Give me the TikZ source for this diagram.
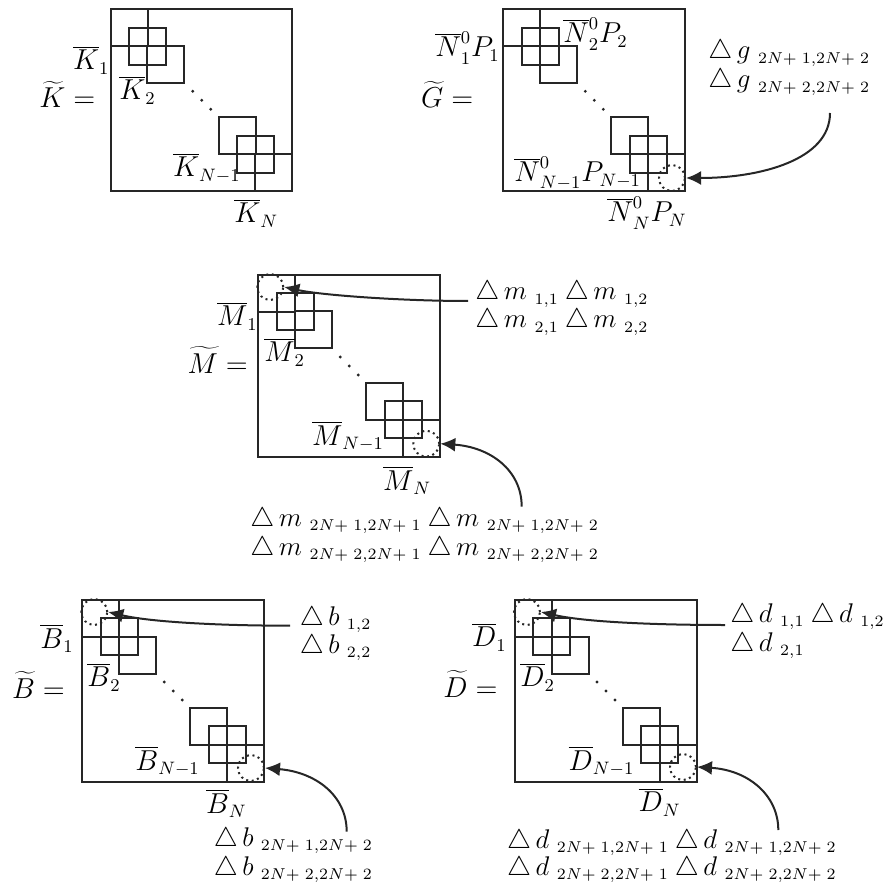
\documentclass[tikz,border=0pt]{standalone}
\usetikzlibrary{arrows.meta}
\DeclareMathSizes{12}{12}{7}{5}
\DeclareMathSizes{14.4}{14.4}{9}{7}
\tikzset{
  ln/.style={line width=2pt, draw=black!85},
  lab/.style={inner sep=0pt, anchor=base west, scale=2.0, font=\Large},
  ann/.style={inner sep=0pt, anchor=base west, scale=2.25, font=\large},
  cornerring/.style={circle, minimum size=26pt, inner sep=0pt, draw=black!85, line width=2pt, dash pattern=on 2pt off 3.6pt},
  arr/.style={line width=2pt, draw=black!85, -{Latex[length=15pt,width=14pt]}},
}
\newcommand\blkmat[2]{%
  \begin{scope}[shift={(#1,#2)}]
    \draw[ln] (0,0) rectangle (181.5,181.5);
    \foreach \o in {0,18.25,36.5,108,126.25,144.5} \draw[ln] (\o,\o) rectangle ++(37,37);
    \foreach \o in {82,91,100} \fill[black!85] (\o,\o) circle (1.6pt);
  \end{scope}}
\newcommand\dsub[2]{\triangle\,#1\;{}_{#2}}
\newcommand\ovN{\mathord{\smash{\overline{N}}\vphantom{N}}}
\begin{document}
\begin{tikzpicture}[x=1pt,y=-1pt]
\useasboundingbox (0,0) rectangle (891,890);
% ---------- K ----------
\blkmat{110.7}{9.3}
\node[lab] (K1) at (72.7,70) {$\overline{K}_1$};
\node[lab] (Keq) at (39,108) {$\widetilde{K}=$};
\node[lab] (K2) at (119,100) {$\overline{K}_2$};
\node[lab] (Kn1) at (172.7,177) {$\overline{K}_{N-1}$};
\node[lab] (Kn) at (234,223) {$\overline{K}_N$};
% ---------- G ----------
\blkmat{503.3}{9.3}
\node[lab] (G1) at (435,57) {$\ovN^0_1P_1$};
\node[lab] (Geq) at (420.7,108) {$\widetilde{G}=$};
\node[lab] (G2) at (563,43) {$\ovN^0_2P_2$};
\node[lab] (Gn1) at (514,181.7) {$\ovN^0_{N-1}P_{N-1}$};
\node[lab] (Gn) at (607,222) {$\ovN^0_NP_N$};
\node[cornerring] (Gbr) at (672,178) {};
\node[ann] (Ga1) at (708,59) {$\dsub{g}{2N{+}\;1,2N{+}\;2}$};
\node[ann] (Ga2) at (708,88) {$\dsub{g}{2N{+}\;2,2N{+}\;2}$};
\coordinate (Gs) at (830,113);
\draw[arr] (Gs) .. controls (830,160) and (760,178) .. (Gbr.east);
% ---------- M ----------
\blkmat{258.3}{275}
\node[lab] (M1) at (216.7,326) {$\overline{M}_1$};
\node[lab] (Meq) at (187.3,373) {$\widetilde{M}=$};
\node[lab] (M2) at (264,361.7) {$\overline{M}_2$};
\node[lab] (Mn1) at (311.7,445) {$\overline{M}_{N-1}$};
\node[lab] (Mn) at (382.7,490) {$\overline{M}_N$};
\node[cornerring] (Mtl) at (270.3,287) {};
\node[cornerring] (Mbr) at (426.3,443.7) {};
\node[ann] (Ma1) at (475,300) {$\dsub{m}{1,1}\:\dsub{m}{1,2}$};
\node[ann] (Ma2) at (475,328) {$\dsub{m}{2,1}\:\dsub{m}{2,2}$};
\node[ann] (Mb1) at (250,526.7) {$\dsub{m}{2N{+}\;1,2N{+}\;1}\:\dsub{m}{2N{+}\;1,2N{+}\;2}$};
\node[ann] (Mb2) at (250,555) {$\dsub{m}{2N{+}\;2,2N{+}\;1}\:\dsub{m}{2N{+}\;2,2N{+}\;2}$};
\coordinate (Ms1) at (468,301);
\coordinate (Ms2) at (521.7,506.7);
\draw[arr] (Ms1) .. controls (400,301) and (320,295) .. (Mtl.east);
\draw[arr] (Ms2) .. controls (521.7,470) and (490,447) .. (Mbr.east);
% ---------- B ----------
\blkmat{82.3}{600}
\node[lab] (B1) at (40,648.3) {$\overline{B}_1$};
\node[lab] (Beq) at (11.7,698) {$\widetilde{B}=$};
\node[lab] (B2) at (87,686.7) {$\overline{B}_2$};
\node[lab] (Bn1) at (135,770) {$\overline{B}_{N-1}$};
\node[lab] (Bn) at (205.7,813) {$\overline{B}_N$};
\node[cornerring] (Btl) at (94.3,612) {};
\node[cornerring] (Bbr) at (251,768) {};
\node[ann] (Ba1) at (299.3,625) {$\dsub{b}{1,2}$};
\node[ann] (Ba2) at (299.3,653) {$\dsub{b}{2,2}$};
\node[ann] (Bb1) at (213.3,846.7) {$\dsub{b}{2N{+}\;1,2N{+}\;2}$};
\node[ann] (Bb2) at (213.3,875) {$\dsub{b}{2N{+}\;2,2N{+}\;2}$};
\coordinate (Bs1) at (290,625.7);
\coordinate (Bs2) at (346.7,831.7);
\draw[arr] (Bs1) .. controls (220,625.7) and (150,622) .. (Btl.east);
\draw[arr] (Bs2) .. controls (346.7,795) and (315,772) .. (Bbr.east);
% ---------- D ----------
\blkmat{515}{600}
\node[lab] (D1) at (471.7,646.7) {$\overline{D}_1$};
\node[lab] (Deq) at (443,697) {$\widetilde{D}=$};
\node[lab] (D2) at (520,686.7) {$\overline{D}_2$};
\node[lab] (Dn1) at (568.3,770) {$\overline{D}_{N-1}$};
\node[lab] (Dn) at (638.3,811.7) {$\overline{D}_N$};
\node[cornerring] (Dtl) at (527,612) {};
\node[cornerring] (Dbr) at (683,767) {};
\node[ann] (Da1) at (730,622) {$\dsub{d}{1,1}\:\dsub{d}{1,2}$};
\node[ann] (Da2) at (730,651.7) {$\dsub{d}{2,1}$};
\node[ann] (Db1) at (506.7,848) {$\dsub{d}{2N{+}\;1,2N{+}\;1}\:\dsub{d}{2N{+}\;1,2N{+}\;2}$};
\node[ann] (Db2) at (506.7,875) {$\dsub{d}{2N{+}\;2,2N{+}\;1}\:\dsub{d}{2N{+}\;2,2N{+}\;2}$};
\coordinate (Ds1) at (725,625);
\coordinate (Ds2) at (778.3,830);
\draw[arr] (Ds1) .. controls (655,625) and (585,622) .. (Dtl.east);
\draw[arr] (Ds2) .. controls (778.3,795) and (748,770) .. (Dbr.east);
\end{tikzpicture}
\end{document}
